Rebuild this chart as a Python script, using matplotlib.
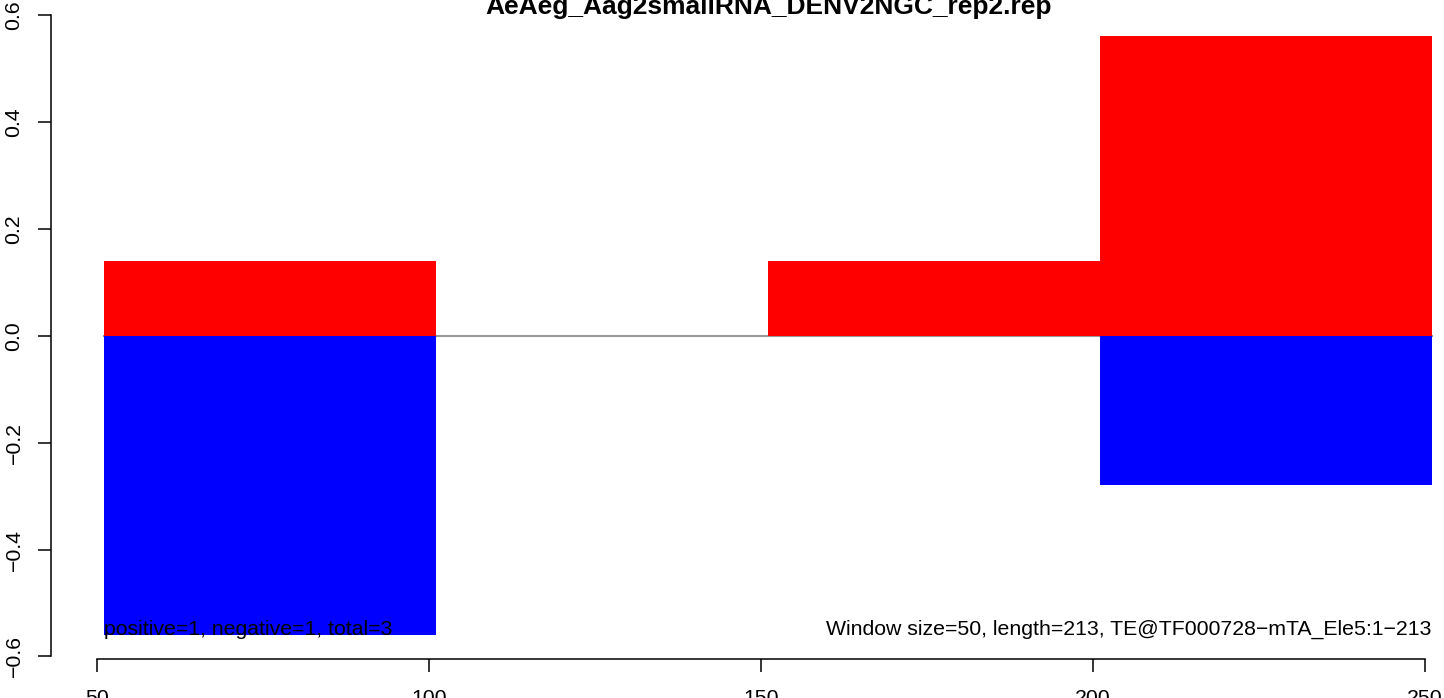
import matplotlib
matplotlib.use('agg')
import matplotlib.pyplot as plt

plt.rcParams['font.family'] = ['Liberation Sans', 'DejaVu Sans']

title = 'AeAeg_Aag2smallRNA_DENV2NGC_rep2.rep'
bin_start = [51, 101, 151, 201]
bin_width = 50
positive = [0.14, 0.0, 0.14, 0.56]
negative = [-0.56, 0.0, 0.0, -0.28]
xticks = [50, 100, 150, 200, 250]
yticks = [-0.6, -0.4, -0.2, 0.0, 0.2, 0.4, 0.6]
ytick_labels = ['\u22120.6', '\u22120.4', '\u22120.2', '0.0', '0.2', '0.4', '0.6']
left_note = 'positive=1, negative=1, total=3'
right_note = 'Window size=50, length=213, TE@TF000728\u2212mTA_Ele5:1\u2212213'

W, H = 1444, 698
fig = plt.figure(figsize=(W / 100, H / 100), dpi=100)
# plot region runs past the right edge of the picture (cropped R output)
ax = fig.add_axes([50.5 / W, 39 / H, (1484.8 - 50.5) / W, (659 - 12.4) / H])

ax.plot([bin_start[0], bin_start[-1] + bin_width], [0, 0], color='#999999', lw=1.5, zorder=1)
ax.bar(bin_start, positive, width=bin_width, align='edge', color='#FF0000', lw=0, zorder=2)
ax.bar(bin_start, negative, width=bin_width, align='edge', color='#0000FF', lw=0, zorder=2)

ax.set_xlim(43, 259)
ax.set_ylim(-0.6048, 0.6048)

for s in ['top', 'right']:
    ax.spines[s].set_visible(False)
ax.spines['left'].set_bounds(-0.6, 0.6)
ax.spines['bottom'].set_bounds(50, 250)
for s in ['left', 'bottom']:
    ax.spines[s].set_linewidth(1.1)

size = 15.3
ax.set_xticks(xticks)
ax.set_xticklabels([str(t) for t in xticks])
ax.set_yticks(yticks)
ax.set_yticklabels(ytick_labels, rotation=90, va='center')
ax.tick_params(length=9.4, width=1.1, labelsize=size, colors='black')
ax.tick_params(axis='x', pad=12)
ax.tick_params(axis='y', pad=10)

ax.text(bin_start[0], -0.56, left_note, ha='left', va='baseline', fontsize=size)
ax.text(bin_start[-1] + bin_width, -0.56, right_note, ha='right', va='baseline', fontsize=size)

fig.text(769 / W, (H - 14) / H, title, ha='center', va='baseline',
         fontsize=19, fontweight='bold')

plt.savefig('out.png', dpi=100)
